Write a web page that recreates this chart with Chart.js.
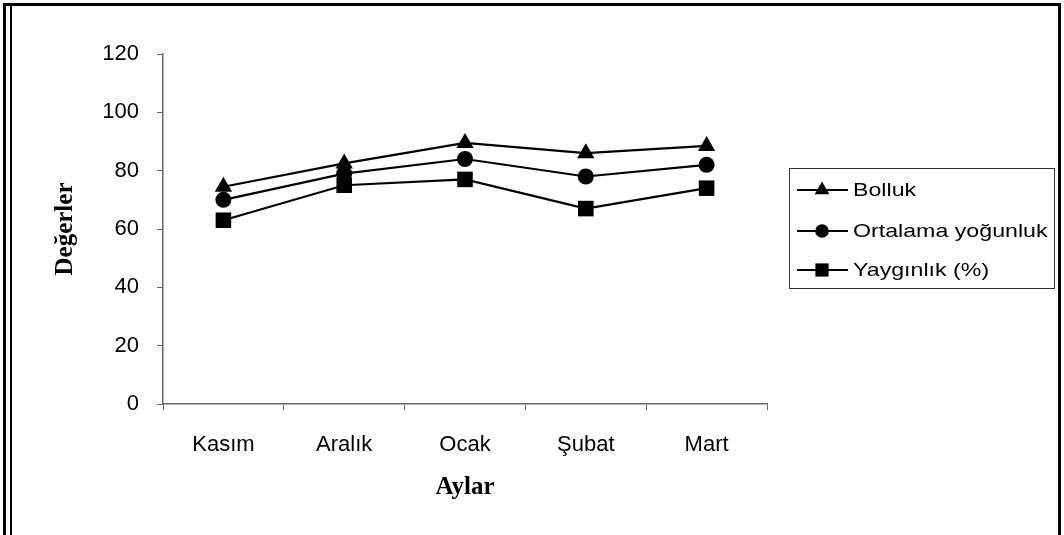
<!DOCTYPE html>
<html lang="tr">
<head>
    <meta charset="UTF-8">
    <title>Aylar - Değerler</title>
    <script src="https://cdn.jsdelivr.net/npm/chart.js"></script>
    <style>
        body { margin: 0; background: #fff; }
        .wrap { position: relative; width: 1064px; height: 535px; overflow: hidden; }
        .frame {
            position: absolute; left: 3px; top: 3px; width: 1052px; height: 540px;
            border-top: 3px solid #000; border-left: 3px solid #000; border-right: 3px solid #000;
        }
        .frame-inner { position: absolute; left: 10px; top: 6px; width: 2px; height: 540px; background: #000; }
    </style>
</head>
<body>
<div class="wrap">
    <canvas id="chart"></canvas>
    <div class="frame"></div>
    <div class="frame-inner"></div>
</div>
<script>
    // data
    const months = ['Kasım', 'Aralık', 'Ocak', 'Şubat', 'Mart'];
    const bolluk = [74.5, 82.5, 89.5, 86, 88.5];
    const ortalamaYogunluk = [70, 79, 84, 78, 82];
    const yayginlik = [63, 75, 77, 67, 74];
    const yMin = 0, yMax = 120, yStep = 20;

    const sans = "'Liberation Sans', Arial, sans-serif";
    const serif = "'Liberation Serif', 'Times New Roman', serif";

    // legend drawn by hand, boxed on the right like the original
    const boxLegend = {
        id: 'boxLegend',
        afterDraw(chart) {
            const ctx = chart.ctx;
            const x0 = 789, y0 = 168, w = 265, h = 120;
            ctx.save();
            ctx.strokeStyle = '#333';
            ctx.lineWidth = 1;
            ctx.strokeRect(x0 + 0.5, y0 + 0.5, w, h);
            const rows = [190, 231, 270];
            chart.data.datasets.forEach(function (ds, i) {
                const y = rows[i];
                ctx.strokeStyle = '#000';
                ctx.lineWidth = 2;
                ctx.beginPath();
                ctx.moveTo(797, y);
                ctx.lineTo(848, y);
                ctx.stroke();
                ctx.fillStyle = '#000';
                Chart.helpers.drawPoint(ctx, {
                    pointStyle: ds.pointStyle,
                    radius: ds.pointRadius * 0.85,
                    borderWidth: 0
                }, 822, y);
                // original text looks stretched sideways
                ctx.save();
                ctx.translate(853, y + 1);
                ctx.scale(1.22, 1);
                ctx.fillStyle = '#000';
                ctx.font = '19px ' + sans;
                ctx.textBaseline = 'middle';
                ctx.fillText(ds.label, 0, 0);
                ctx.restore();
            });
            ctx.restore();
        }
    };

    function series(label, data, style, r) {
        return {
            label: label,
            data: data,
            borderColor: '#000',
            backgroundColor: '#000',
            borderWidth: 2.2,
            pointStyle: style,
            pointRadius: r,
            pointHoverRadius: r,
            pointBorderWidth: 0,
            pointBackgroundColor: '#000',
            tension: 0
        };
    }

    new Chart(document.getElementById('chart'), {
        type: 'line',
        data: {
            labels: months,
            datasets: [
                series('Bolluk', bolluk, 'triangle', 10),
                series('Ortalama yoğunluk', ortalamaYogunluk, 'circle', 8),
                series('Yaygınlık (%)', yayginlik, 'rect', 11)
            ]
        },
        options: {
            responsive: true,
            maintainAspectRatio: false,
            animation: false,
            layout: { padding: { left: 0, top: 54, right: 297, bottom: 0 } },
            plugins: { legend: { display: false }, tooltip: { enabled: false } },
            scales: {
                x: {
                    offset: true,
                    grid: { offset: true, drawOnChartArea: false, tickLength: 6, color: '#666' },
                    border: { color: '#666', width: 1.5 },
                    ticks: { color: '#000', font: { family: sans, size: 22 }, padding: 22 },
                    title: {
                        display: true, text: 'Aylar', color: '#000',
                        font: { family: serif, size: 25, weight: 'bold' },
                        padding: { bottom: 32 }
                    },
                    afterFit(scale) { scale.height = 131; }
                },
                y: {
                    min: yMin,
                    max: yMax,
                    grid: { drawOnChartArea: false, tickLength: 6, color: '#666' },
                    border: { color: '#666', width: 1.5 },
                    ticks: { stepSize: yStep, color: '#000', font: { family: sans, size: 22 }, padding: 18 },
                    title: {
                        display: true, text: 'Değerler', color: '#000',
                        font: { family: serif, size: 25, weight: 'bold' },
                        padding: { top: 51 }
                    },
                    afterFit(scale) { scale.width = 163; }
                }
            }
        },
        plugins: [boxLegend]
    });
</script>
</body>
</html>
